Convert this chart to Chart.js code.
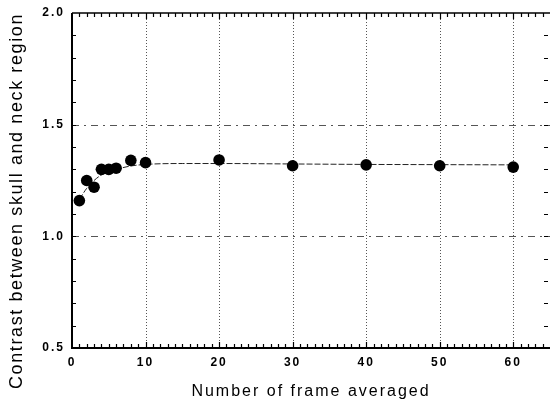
<!DOCTYPE html>
<html>
<head>
<meta charset="utf-8">
<script src="https://cdn.jsdelivr.net/npm/chart.js@4.4.1/dist/chart.umd.min.js"></script>
<style>
  html, body { margin: 0; padding: 0; background: #fff; }
  #wrap { width: 550px; height: 402px; }
</style>
</head>
<body>
<div id="wrap"><canvas id="myChart" width="550" height="402"></canvas></div>
<script>
// measured points
var framesAveraged = [1, 2, 3, 4, 5, 6, 8, 10, 20, 30, 40, 50, 60];
var contrast = [1.16, 1.25, 1.22, 1.30, 1.30, 1.305, 1.34, 1.33, 1.342, 1.316, 1.32, 1.316, 1.31];

// fitted curve
var fitX = [1, 2, 3, 4, 5, 6, 8, 10, 15, 20, 30, 40, 50, 60];
var fitY = [1.165, 1.215, 1.25, 1.275, 1.29, 1.30, 1.315, 1.322, 1.326, 1.326, 1.324, 1.322, 1.321, 1.32];

var xTicks = [0, 10, 20, 30, 40, 50, 60];
var yTicks = [0.5, 1.0, 1.5, 2.0];

var xTitle = 'Number of frame averaged';
var yTitle = 'Contrast between skull and neck region';

var FONT = '"Liberation Sans", Arial, Helvetica, sans-serif';

function toXY(xs, ys) {
    var out = [];
    for (var i = 0; i < xs.length; i++) out.push({x: xs[i], y: ys[i]});
    return out;
}

// frame, dotted grid, inward minor ticks, y title
var framePlugin = {
    id: 'frame',
    beforeDraw: function (chart) {
        chart.ctx.letterSpacing = '2px';
    },
    beforeDatasetsDraw: function (chart) {
        var ctx = chart.ctx;
        var a = chart.chartArea;
        var xs = chart.scales.x, ys = chart.scales.y;
        ctx.save();
        ctx.letterSpacing = '0px';
        ctx.strokeStyle = '#555';
        ctx.lineWidth = 1;

        // vertical grid
        ctx.setLineDash([1, 2]);
        for (var v = 10; v <= 60; v += 10) {
            var px = Math.round(xs.getPixelForValue(v)) + 0.5;
            ctx.beginPath(); ctx.moveTo(px, a.top); ctx.lineTo(px, a.bottom); ctx.stroke();
        }
        // horizontal grid
        ctx.setLineDash([7, 5, 2, 5]);
        [1.0, 1.5].forEach(function (v) {
            var py = Math.round(ys.getPixelForValue(v)) + 0.5;
            ctx.beginPath(); ctx.moveTo(a.left, py); ctx.lineTo(a.right, py); ctx.stroke();
        });
        ctx.setLineDash([]);

        // minor ticks
        ctx.strokeStyle = '#000';
        ctx.lineWidth = 1.2;
        for (var t = 1; t < 65; t++) {
            var tx = Math.round(xs.getPixelForValue(t)) + 0.5;
            var len = (t % 10 == 0) ? 6 : 4;
            ctx.beginPath();
            ctx.moveTo(tx, a.bottom); ctx.lineTo(tx, a.bottom - len);
            ctx.moveTo(tx, a.top); ctx.lineTo(tx, a.top + len);
            ctx.stroke();
        }
        for (var k = 6; k < 20; k++) {
            var ty = Math.round(ys.getPixelForValue(k / 10)) + 0.5;
            ctx.beginPath();
            ctx.moveTo(a.left, ty); ctx.lineTo(a.left + 4, ty);
            ctx.moveTo(a.right - 2, ty); ctx.lineTo(a.right - 6, ty);
            ctx.stroke();
        }

        // frame
        ctx.lineWidth = 2;
        ctx.beginPath();
        ctx.moveTo(a.left, a.top); ctx.lineTo(a.left, a.bottom); ctx.lineTo(a.right, a.bottom);
        ctx.stroke();
        ctx.lineWidth = 1.5;
        ctx.beginPath();
        ctx.moveTo(a.left, a.top); ctx.lineTo(a.right, a.top);
        ctx.stroke();

        // y axis title
        ctx.fillStyle = '#000';
        ctx.font = '18px ' + FONT;
        ctx.letterSpacing = '1.6px';
        ctx.textAlign = 'center';
        ctx.textBaseline = 'middle';
        ctx.translate(17, 201);
        ctx.rotate(-Math.PI / 2);
        ctx.fillText(yTitle, 0, 0);
        ctx.restore();
    }
};

var ctx = document.getElementById('myChart').getContext('2d');

var chart = new Chart(ctx, {
    type: 'scatter',
    data: {
        datasets: [
            {
                label: 'fit',
                data: toXY(fitX, fitY),
                showLine: true,
                borderColor: '#222',
                borderWidth: 1,
                borderDash: [6, 2],
                cubicInterpolationMode: 'monotone',
                pointRadius: 0,
                order: 2
            },
            {
                label: 'Contrast',
                data: toXY(framesAveraged, contrast),
                showLine: false,
                backgroundColor: '#000',
                borderColor: '#000',
                pointRadius: 5.8,
                pointBorderWidth: 0,
                order: 1
            }
        ]
    },
    options: {
        responsive: false,
        animation: false,
        layout: { autoPadding: false, padding: { top: 13, right: 0, left: 0, bottom: 0 } },
        plugins: {
            legend: { display: false },
            tooltip: { enabled: false }
        },
        scales: {
            x: {
                type: 'linear',
                min: 0,
                max: 65,
                afterBuildTicks: function (scale) {
                    scale.ticks = xTicks.map(function (v) { return {value: v}; });
                },
                afterFit: function (scale) {
                    scale.height = 54;
                    scale.paddingLeft = 0;
                    scale.paddingRight = 0;
                },
                grid: { display: false, drawTicks: false },
                border: { display: false },
                ticks: {
                    color: '#000',
                    padding: 7,
                    maxRotation: 0,
                    autoSkip: false,
                    font: { family: FONT, size: 12, weight: 'bold' }
                },
                title: {
                    display: true,
                    text: xTitle,
                    color: '#000',
                    padding: { top: 0, bottom: 1 },
                    font: { family: FONT, size: 16 }
                }
            },
            y: {
                type: 'linear',
                min: 0.5,
                max: 2.0,
                afterBuildTicks: function (scale) {
                    scale.ticks = yTicks.map(function (v) { return {value: v}; });
                },
                afterFit: function (scale) {
                    scale.width = 72;
                    scale.paddingTop = 0;
                    scale.paddingBottom = 0;
                },
                grid: { display: false, drawTicks: false },
                border: { display: false },
                ticks: {
                    color: '#000',
                    padding: 7,
                    autoSkip: false,
                    font: { family: FONT, size: 12, weight: 'bold' },
                    callback: function (v) { return Number(v).toFixed(1); }
                }
            }
        }
    },
    plugins: [framePlugin]
});
</script>
</body>
</html>
